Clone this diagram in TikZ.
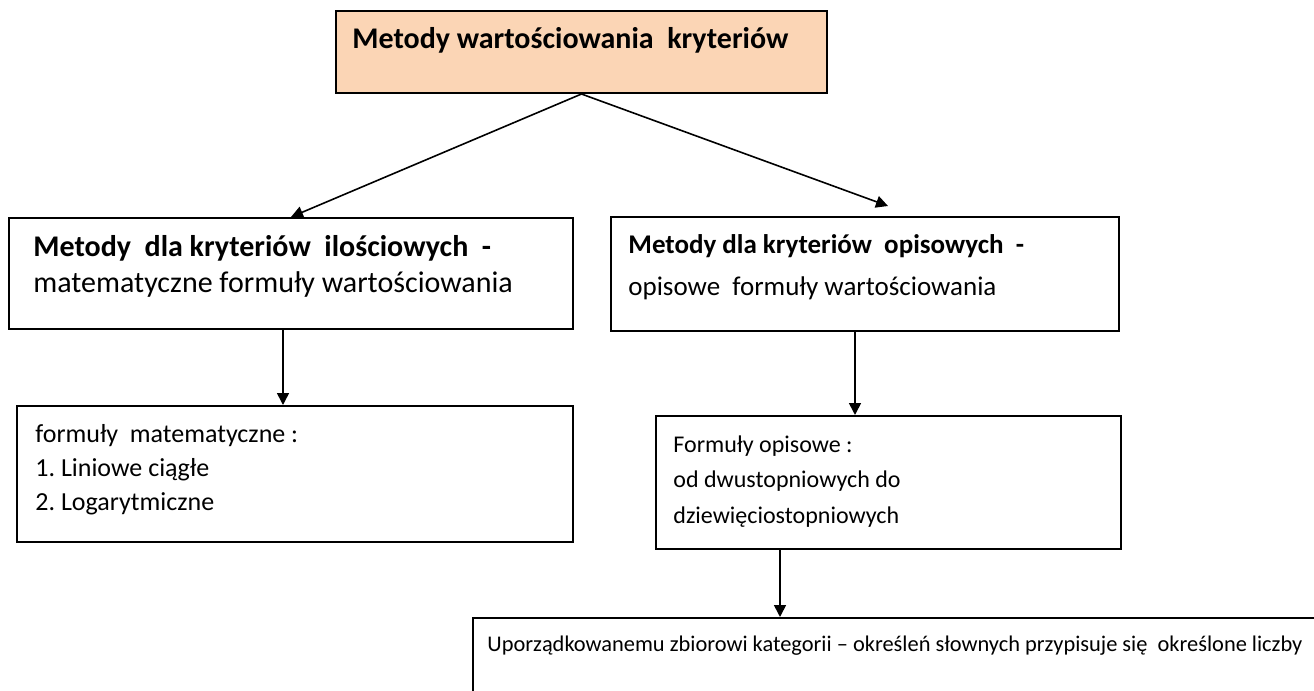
\documentclass[tikz,border=0pt]{standalone}
\usepackage{fontspec}
\setmainfont{Carlito}
\usetikzlibrary{arrows.meta}
\definecolor{brzoskwinia}{RGB}{251,213,181}

\begin{document}
\frenchspacing
\begin{tikzpicture}[x=0.5pt,y=-0.5pt,font=\fontsize{11.2}{17.5}\selectfont,
    ramka/.style={rectangle,draw,line width=1pt,anchor=north west,inner sep=0pt},
    opis/.style={anchor=base west,align=left,inner sep=0pt},
    strzalka/.style={line width=0.8pt,arrows = -{Triangle[length=6pt,width=6pt]}}]

            %\draw [help lines] (0,0) grid (1314,691);
            \useasboundingbox (0,0) rectangle (1314,691);
            \clip (0,0) rectangle (1314,691);

            \path   (335,10)  node (glowne) [ramka,fill=brzoskwinia,minimum width=245.5pt,minimum height=41pt] {}
                    (8,217)   node (lewy)   [ramka,minimum width=282pt,minimum height=55.5pt] {}
                    (610,216) node (prawy)  [ramka,minimum width=254pt,minimum height=57pt] {}
                    (16,405)  node (matem)  [ramka,minimum width=278pt,minimum height=68pt] {}
                    (655,415) node (opisowe) [ramka,minimum width=232.5pt,minimum height=66.5pt] {}
                    (472,617) node (dol)    [ramka,minimum width=480pt,minimum height=80pt] {};

            % baseline of the last line of each text
            \path   (352,48)  node (tglowne) [opis,font=\fontsize{15}{18}\selectfont] {\textbf{Metody wartościowania\ \ kryteriów}}
                    (33,292)  node (tlewy)   [opis,font=\fontsize{15}{18}\selectfont] {\textbf{Metody\ \ dla kryteriów\ \ ilościowych\ \ -}\\matematyczne formuły wartościowania}
                    (628,295) node (tprawy)  [opis,font=\fontsize{13.5}{21}\selectfont] {\textbf{Metody dla kryteriów\ \ opisowych\ \ -}\\opisowe\ \ formuły wartościowania}
                    (35,510)  node (tmatem)  [opis,font=\fontsize{13}{17}\selectfont] {formuły\ \ matematyczne :\\1. Liniowe ciągłe\\2. Logarytmiczne}
                    (673,523) node (topisowe) [opis,font=\fontsize{12}{17.75}\selectfont] {Formuły opisowe :\\od dwustopniowych do\\dziewięciostopniowych}
                    (487,651) node (tdol)    [opis] {Uporządkowanemu zbiorowi kategorii – określeń słownych przypisuje się\ \ określone liczby};

            \coordinate (grot) at (888,206);

            \draw[strzalka] (glowne.south) -- (lewy.north);
            \draw[strzalka] (glowne.south) -- (grot);
            \draw[strzalka] ([xshift=137.5pt]lewy.south west) -- ([xshift=137.5pt]lewy.south west |- matem.north);
            \draw[strzalka] ([xshift=122.5pt]prawy.south west) -- ([xshift=122.5pt]prawy.south west |- opisowe.north);
            \draw[strzalka] ([xshift=62.5pt]opisowe.south west) -- ([xshift=62.5pt]opisowe.south west |- dol.north);

        \end{tikzpicture}
\end{document}
